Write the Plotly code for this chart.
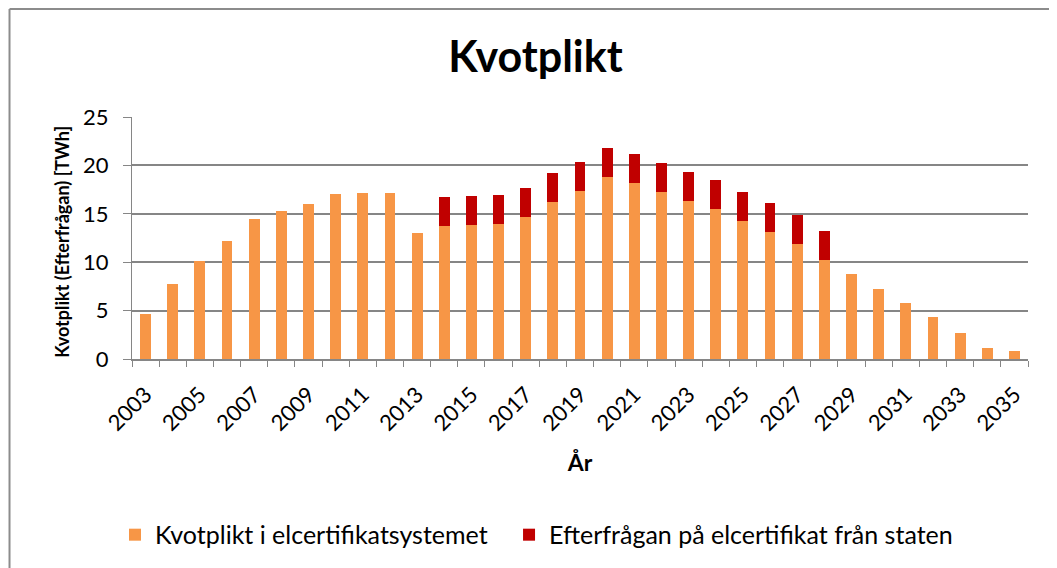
import plotly.graph_objects as go

years = [str(y) for y in range(2003, 2036)]

kvotplikt = [4.6, 7.8, 10.1, 12.2, 14.5, 15.3, 16.0, 17.0, 17.2, 17.2,
             13.0, 13.7, 13.8, 13.9, 14.7, 16.2, 17.4, 18.8, 18.2, 17.3,
             16.3, 15.5, 14.3, 13.1, 11.9, 10.2, 8.8, 7.2, 5.8, 4.3,
             2.7, 1.1, 0.8]

staten = [0, 0, 0, 0, 0, 0, 0, 0, 0, 0,
          0, 3.0, 3.0, 3.0, 3.0, 3.0, 3.0, 2.95, 3.0, 3.0,
          3.0, 2.95, 3.0, 3.0, 3.0, 3.0, 0, 0, 0, 0,
          0, 0, 0]

tick_labels = [y if i % 2 == 0 else "" for i, y in enumerate(years)]

FONT = "Lato"
GRID = "#868686"

fig = go.Figure()
fig.add_trace(go.Bar(x=years, y=kvotplikt, name="Kvotplikt i elcertifikatsystemet",
                     marker=dict(color="#F79646", line=dict(width=0)), legend="legend"))
fig.add_trace(go.Bar(x=years, y=staten, name="Efterfrågan på elcertifikat från staten",
                     marker=dict(color="#C00000", line=dict(width=0)), legend="legend2"))

# left + top frame like the Excel chart area (kept just inside the figure edge)
fig.add_shape(type="line", xref="paper", yref="paper", x0=-0.1367, x1=-0.1367, y0=-0.95, y1=1.446,
              line=dict(color="#8c8c8c", width=2))
fig.add_shape(type="line", xref="paper", yref="paper", x0=-0.1367, x1=1.05, y0=1.446, y1=1.446,
              line=dict(color="#8c8c8c", width=2))

fig.add_annotation(text="<b>Kvotplikt (Efterfrågan) [TWh]</b>", xref="paper", yref="paper",
                   x=-0.078, y=0.485, xanchor="center", yanchor="middle", textangle=-90,
                   showarrow=False, font=dict(family=FONT, size=18, color="black"))

legend_style = dict(orientation="h", y=-0.727, yanchor="middle", xanchor="left",
                    font=dict(family=FONT, size=25), itemwidth=30, bgcolor="rgba(0,0,0,0)")

# page body has an 8px margin, so margins are shifted by 8 to keep the plot in place
fig.update_layout(
    width=1057, height=568,
    barmode="stack",
    bargap=0.6,
    showlegend=True,
    plot_bgcolor="white",
    paper_bgcolor="white",
    font=dict(family=FONT, color="black"),
    title=dict(text="<b>Kvotplikt</b>", x=0.499, xanchor="center", y=0.914, yanchor="middle",
               font=dict(family=FONT, size=43, color="black")),
    margin=dict(l=124, r=37, t=109, b=217),
    legend=dict(x=-0.019, **legend_style),
    legend2=dict(x=0.4208, **legend_style),
    xaxis=dict(
        type="category", tickson="boundaries", ticks="outside", ticklen=6, tickcolor=GRID,
        tickvals=years, ticktext=tick_labels, tickangle=-45,
        tickfont=dict(family=FONT, size=22), automargin=False, ticklabelstandoff=12,
        showline=True, linecolor=GRID, linewidth=2, showgrid=False,
        title=dict(text="<b>År</b>", font=dict(family=FONT, size=23), standoff=20),
    ),
    yaxis=dict(
        range=[0, 25], dtick=5, ticks="outside", ticklen=8, tickcolor=GRID,
        tickfont=dict(family=FONT, size=22), automargin=False, ticklabelstandoff=10,
        showline=True, linecolor=GRID, linewidth=1,
        showgrid=True, gridcolor=GRID, gridwidth=1.5, zeroline=False,
    ),
)

fig.write_html("out.html")
